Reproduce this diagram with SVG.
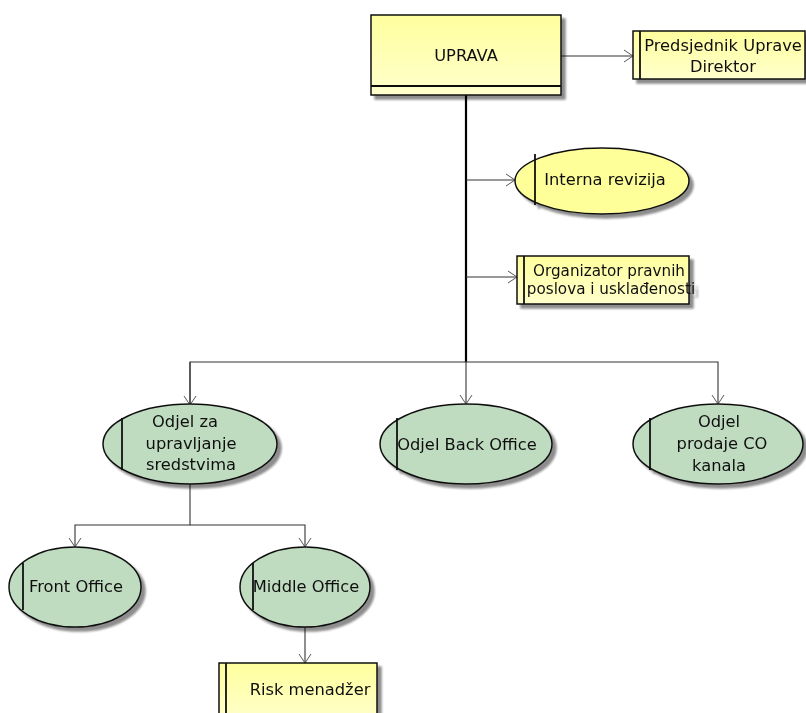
<svg xmlns="http://www.w3.org/2000/svg" width="806" height="713" viewBox="0 0 806 713">
<defs>
<linearGradient id="yel" x1="0" y1="0" x2="0" y2="1"><stop offset="0" stop-color="#FFFF9E"/><stop offset="1" stop-color="#FFFFCC"/></linearGradient>
<filter id="sh" x="-10%" y="-10%" width="130%" height="140%"><feGaussianBlur in="SourceAlpha" stdDeviation="1.2"/><feOffset dx="4" dy="4" result="b"/><feComponentTransfer in="b" result="c"><feFuncA type="linear" slope="0.45"/></feComponentTransfer><feMerge><feMergeNode in="c"/><feMergeNode in="SourceGraphic"/></feMerge></filter>
<marker id="arr" markerWidth="12" markerHeight="14" refX="10" refY="7" orient="auto" markerUnits="userSpaceOnUse"><path d="M1,1 L10,7 L1,13" fill="none" stroke="#555" stroke-width="1"/></marker>
<style>
.y{fill:url(#yel);stroke:#111;stroke-width:1.5}
.ye{fill:#FFFF99;stroke:#111;stroke-width:1.5}
.g{fill:#C0DCC0;stroke:#111;stroke-width:1.5}
.bar{stroke:#111;stroke-width:1.8;fill:none}
.c{stroke:#333;stroke-width:1.1;fill:none}
.tr{stroke:#000;stroke-width:2.2;fill:none}
text{font-family:"DejaVu Sans",Verdana,sans-serif;font-size:16.3px;fill:#111}
.m{text-anchor:middle}
.s{font-size:15.2px}
</style>
</defs>
<g id="connectors">
<line class="tr" x1="466" y1="95" x2="466" y2="362"/>
<line class="c" x1="561" y1="56" x2="633" y2="56" marker-end="url(#arr)"/>
<line class="c" x1="466" y1="180" x2="515" y2="180" marker-end="url(#arr)"/>
<line class="c" x1="466" y1="277" x2="517" y2="277" marker-end="url(#arr)"/>
<polyline class="c" points="190,405 190,362 718,362 718,404" marker-end="url(#arr)"/>
<line class="c" x1="190" y1="362" x2="190" y2="405" marker-end="url(#arr)"/>
<line class="c" x1="466" y1="362" x2="466" y2="404" marker-end="url(#arr)"/>
<polyline class="c" points="190,484 190,525 75,525 75,547" marker-end="url(#arr)"/>
<polyline class="c" points="190,525 305,525 305,547" marker-end="url(#arr)"/>
<line class="c" x1="305" y1="627" x2="305" y2="663" marker-end="url(#arr)"/>
</g>
<g id="uprava" filter="url(#sh)">
<rect class="y" x="371" y="15" width="190" height="80"/>
<line class="bar" x1="371" y1="86" x2="561" y2="86"/>
<text class="m" x="466" y="61">UPRAVA</text>
</g>
<g id="predsjednik" filter="url(#sh)">
<rect class="y" x="633" y="31" width="172" height="48"/>
<line class="bar" x1="640" y1="31" x2="640" y2="79"/>
<text class="m" x="723" y="51">Predsjednik Uprave</text>
<text class="m" x="723" y="72">Direktor</text>
</g>
<g id="interna" filter="url(#sh)">
<ellipse class="ye" cx="602" cy="181" rx="87" ry="33"/>
<line class="bar" x1="535" y1="154" x2="535" y2="205"/>
<text class="m" x="605" y="185">Interna revizija</text>
</g>
<g id="organizator" filter="url(#sh)">
<rect class="y" x="517" y="256" width="172" height="48"/>
<line class="bar" x1="524" y1="256" x2="524" y2="304"/>
<text class="m s" x="609" y="276">Organizator pravnih</text>
<text class="m s" x="611" y="294">poslova i usklađenosti</text>
</g>
<g id="odjel-sredstva" filter="url(#sh)">
<ellipse class="g" cx="190" cy="444" rx="87" ry="40"/>
<line class="bar" x1="122" y1="418" x2="122" y2="470"/>
<text class="m" x="185" y="427">Odjel za</text>
<text class="m" x="191" y="449">upravljanje</text>
<text class="m" x="191" y="470">sredstvima</text>
</g>
<g id="odjel-back" filter="url(#sh)">
<ellipse class="g" cx="466" cy="444" rx="86" ry="40"/>
<line class="bar" x1="397" y1="418" x2="397" y2="470"/>
<text class="m" x="467" y="450">Odjel Back Office</text>
</g>
<g id="odjel-prodaje" filter="url(#sh)">
<ellipse class="g" cx="718" cy="444" rx="85" ry="40"/>
<line class="bar" x1="650" y1="418" x2="650" y2="470"/>
<text class="m" x="719" y="427">Odjel</text>
<text class="m" x="722" y="449">prodaje CO</text>
<text class="m" x="719" y="471">kanala</text>
</g>
<g id="front" filter="url(#sh)">
<ellipse class="g" cx="75" cy="587" rx="66" ry="40"/>
<line class="bar" x1="23" y1="563" x2="23" y2="610"/>
<text class="m" x="76" y="592">Front Office</text>
</g>
<g id="middle" filter="url(#sh)">
<ellipse class="g" cx="305" cy="587" rx="65" ry="40"/>
<line class="bar" x1="253" y1="563" x2="253" y2="610"/>
<text class="m" x="306" y="592">Middle Office</text>
</g>
<g id="risk" filter="url(#sh)">
<rect class="y" x="219" y="663" width="158" height="60"/>
<line class="bar" x1="226" y1="663" x2="226" y2="723"/>
<text class="m" x="310" y="695">Risk menadžer</text>
</g>
</svg>
